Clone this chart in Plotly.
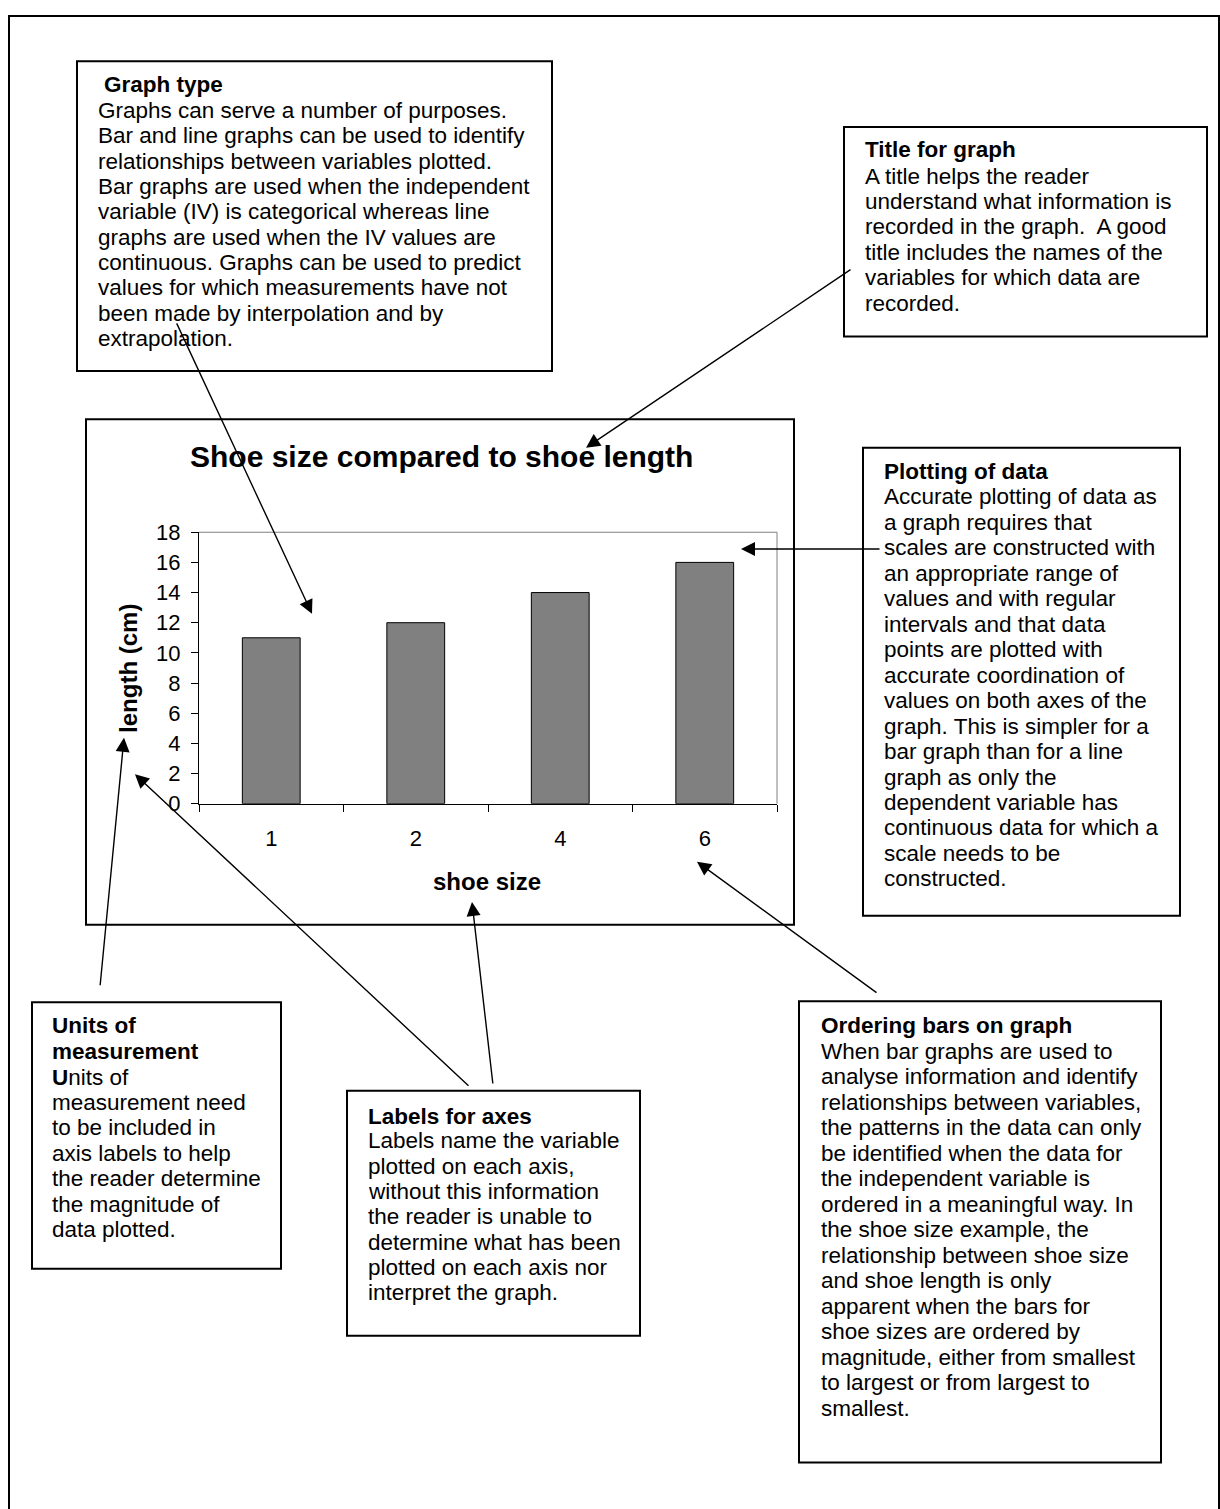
import plotly.graph_objects as go

W, H = 1220, 1509

# ---- chart data ----
shoe_sizes = ["1", "2", "4", "6"]
shoe_lengths = [11, 12, 14, 16]
y_tick_vals = [0, 2, 4, 6, 8, 10, 12, 14, 16, 18]

chart_title = "Shoe size compared to shoe length"
x_title = "shoe size"
y_title = "length (cm)"

# ---- annotation box texts ----
graph_type_title = ["Graph type"]
graph_type_body = [
    "Graphs can serve a number of purposes.",
    "Bar and line graphs can be used to identify",
    "relationships between variables plotted.",
    "Bar graphs are used when the independent",
    "variable (IV) is categorical whereas line",
    "graphs are used when the IV values are",
    "continuous. Graphs can be used to predict",
    "values for which measurements have not",
    "been made by interpolation and by",
    "extrapolation.",
]
title_box_title = ["Title for graph"]
title_box_body = [
    "A title helps the reader",
    "understand what information is",
    "recorded in the graph.&nbsp; A good",
    "title includes the names of the",
    "variables for which data are",
    "recorded.",
]
plotting_title = ["Plotting of data"]
plotting_body = [
    "Accurate plotting of data as",
    "a graph requires that",
    "scales are constructed with",
    "an appropriate range of",
    "values and with regular",
    "intervals and that data",
    "points are plotted with",
    "accurate coordination of",
    "values on both axes of the",
    "graph. This is simpler for a",
    "bar graph than for a line",
    "graph as only the",
    "dependent variable has",
    "continuous data for which a",
    "scale needs to be",
    "constructed.",
]
units_title = ["Units of", "measurement"]
units_body = [
    "<b>U</b>nits of",
    "measurement need",
    "to be included in",
    "axis labels to help",
    "the reader determine",
    "the magnitude of",
    "data plotted.",
]
labels_title = ["Labels for axes"]
labels_body = [
    "Labels name the variable",
    "plotted on each axis,",
    "without this information",
    "the reader is unable to",
    "determine what has been",
    "plotted on each axis nor",
    "interpret the graph.",
]
ordering_title = ["Ordering bars on graph"]
ordering_body = [
    "When bar graphs are used to",
    "analyse information and identify",
    "relationships between variables,",
    "the patterns in the data can only",
    "be identified when the data for",
    "the independent variable is",
    "ordered in a meaningful way. In",
    "the shoe size example, the",
    "relationship between shoe size",
    "and shoe length is only",
    "apparent when the bars for",
    "shoe sizes are ordered by",
    "magnitude, either from smallest",
    "to largest or from largest to",
    "smallest.",
]

FONT = "Arial, Liberation Sans, sans-serif"
BODY = 22.5


def px(x):
    return x / W


def py(y):
    return 1 - y / H


fig = go.Figure(
    go.Bar(
        x=shoe_sizes,
        y=shoe_lengths,
        width=0.4,
        marker=dict(color="#808080", line=dict(color="black", width=1)),
        showlegend=False,
    )
)

PL, PR, PT, PB = 199, 777, 529, 805

fig.update_layout(
    width=W,
    height=H,
    margin=dict(l=0, r=0, t=0, b=0),
    paper_bgcolor="white",
    plot_bgcolor="white",
    font=dict(family=FONT, color="black"),
    xaxis=dict(
        domain=[px(PL), px(PR)],
        type="category",
        tickson="boundaries",
        ticks="outside",
        ticklen=7,
        tickcolor="black",
        showline=True,
        linecolor="black",
        linewidth=1,
        showgrid=False,
        zeroline=False,
        tickfont=dict(size=22, family=FONT, color="black"),
        ticklabelstandoff=15,
        fixedrange=True,
    ),
    yaxis=dict(
        domain=[py(PB), py(PT)],
        range=[0, 18],
        tickvals=y_tick_vals,
        ticks="outside",
        ticklen=7,
        tickcolor="black",
        showline=True,
        linecolor="black",
        linewidth=1,
        showgrid=False,
        zeroline=False,
        tickfont=dict(size=22, family=FONT, color="black"),
        ticklabelstandoff=6,
        fixedrange=True,
    ),
)

shapes = []
annotations = []


def rect(x0, y0, x1, y1, width=2, color="black"):
    shapes.append(dict(type="rect", xref="paper", yref="paper",
                       x0=px(x0), x1=px(x1), y0=py(y0), y1=py(y1),
                       line=dict(color=color, width=width), fillcolor="rgba(0,0,0,0)"))


def line(x0, y0, x1, y1, width=1, color="black"):
    shapes.append(dict(type="line", xref="paper", yref="paper",
                       x0=px(x0), x1=px(x1), y0=py(y0), y1=py(y1),
                       line=dict(color=color, width=width)))


def text(s, x, y, size=BODY, bold=False, anchor="left", angle=0):
    annotations.append(dict(
        text=f"<b>{s}</b>" if bold else s,
        xref="paper", yref="paper", x=px(x), y=py(y),
        xanchor=anchor, yanchor="middle", showarrow=False,
        textangle=angle, font=dict(size=size, family=FONT, color="black"),
        borderpad=0,
    ))


def arrow(tail, tip):
    annotations.append(dict(
        text="", xref="paper", yref="paper", x=px(tip[0]), y=py(tip[1]),
        ax=tail[0] - tip[0], ay=tail[1] - tip[1], axref="pixel", ayref="pixel",
        showarrow=True, arrowhead=2, arrowsize=2.0, arrowwidth=1.4,
        arrowcolor="black", standoff=0, startstandoff=0,
    ))


def box(rect_px, title_lines, title_x, title_y0, body_lines, body_x, body_y0, step):
    rect(*rect_px)
    y = title_y0
    for t in title_lines:
        text(t, title_x, y, bold=True)
        y += step
    for i, b in enumerate(body_lines):
        text(b, body_x, body_y0 + i * step)


# outer page frame
rect(9, 4, 1219, 1530)

# chart frame and plot-area frame (grey top/right)
rect(86, 414, 794, 928)
line(PL, PT, PR, PT, color="#808080")
line(PR, PT, PR, PB, color="#808080")

# chart titles
text(chart_title, 441, 452, size=30, bold=True, anchor="center")
text(y_title, 129, 668, size=24, bold=True, anchor="center", angle=-90)
text(x_title, 487, 884, size=24, bold=True, anchor="center")

# text boxes
box((77, 50, 552, 365), graph_type_title, 103, 74, graph_type_body, 97, 100, 25.8)
box((844, 117, 1207, 330), title_box_title, 864, 140, title_box_body, 864, 167, 25.8)
box((863, 443, 1180, 919), plotting_title, 883, 467, plotting_body, 883, 493, 25.9)
box((32, 1007, 281, 1278), units_title, 51, 1031, units_body, 51, 1083, 25.9)
box((347, 1097, 640, 1346), labels_title, 367, 1123, labels_body, 367, 1148, 25.7)
box((799, 1006, 1161, 1475), ordering_title, 820, 1031, ordering_body, 820, 1057, 25.9)

# connector arrows
arrow((176, 320), (312, 612))   # graph type
arrow((852, 264), (586, 443))   # title
arrow((881, 546), (741, 546))   # plotting
arrow((100, 987), (124, 738))   # units
arrow((470, 1088), (135, 775))  # labels -> y title
arrow((493, 1088), (472, 905))  # labels -> x title
arrow((878, 996), (697, 864))   # ordering

fig.update_layout(shapes=shapes, annotations=annotations)

fig.write_html("out.html")
